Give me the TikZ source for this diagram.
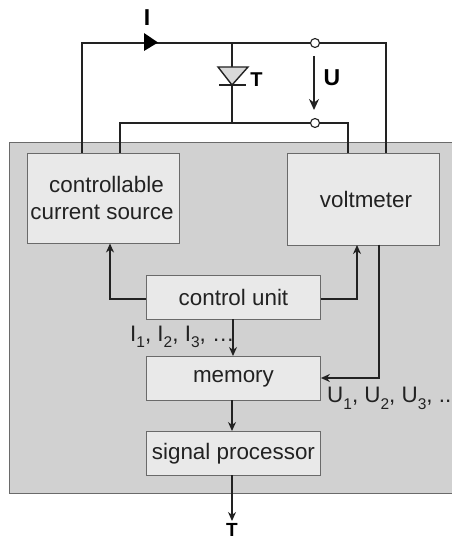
\documentclass[tikz,border=0pt]{standalone}
\usepackage{fontspec}
\setmainfont{Liberation Sans}
\usetikzlibrary{arrows.meta,calc}
\definecolor{panelgray}{HTML}{D1D1D1}
\definecolor{boxgray}{HTML}{E9E9E9}
\definecolor{edgegray}{HTML}{6A6A6A}
\definecolor{inkgray}{HTML}{222222}
\newcommand{\labsub}[2]{#1\raisebox{-0.55ex}{\fontsize{15.5}{15.5}\selectfont #2}}
\tikzset{
  block/.style={draw=edgegray,fill=boxgray,line width=0.9pt,inner sep=0pt,anchor=north west,align=center,text=inkgray,font=\fontsize{22.4}{26}\selectfont},
  wire/.style={draw=inkgray,line width=1.4pt},
  sig/.style={wire,-{Stealth[length=9pt,width=8pt]}},
  term/.style={circle,draw=inkgray,fill=white,line width=1.1pt,inner sep=0pt,minimum size=9pt},
  tag/.style={text=black,inner sep=0pt,font=\fontsize{23}{23}\selectfont\bfseries},
  list/.style={text=inkgray,inner sep=0pt,font=\fontsize{22.4}{22.4}\selectfont}
}
\begin{document}
\begin{tikzpicture}[x=1pt,y=-1pt]
\useasboundingbox (0,0) rectangle (451,540);
\draw [draw=edgegray,fill=panelgray,line width=0.9pt] (452,142) -- (9,142) -- (9,493.5) -- (452,493.5);
\node (source) [block,minimum width=152pt,minimum height=90pt] at (27,153) {};
\node (sourcetext) [text=inkgray,align=center,inner sep=0pt,font=\fontsize{22.4}{27}\selectfont] at (102,198) {\hspace*{9pt}controllable\\current source};
\node (volt) [block,minimum width=152pt,minimum height=91.5pt] at (286.5,153) {};
\node (volttext) [text=inkgray,inner sep=0pt,font=\fontsize{22.4}{26}\selectfont] at (366,199) {voltmeter};
\node (control) [block,minimum width=174pt,minimum height=44pt] at (146,275) {control unit};
\node (memory) [block,minimum width=174pt,minimum height=44pt] at (146,356) {memory};
\node (proc) [block,minimum width=174pt,minimum height=44pt] at (146,431) {signal processor};
\node (topterm) [term] at (315,43) {};
\node (lowterm) [term] at (315,123) {};
\coordinate (topjoin) at (232,43);
\coordinate (lowjoin) at (232,123);
\coordinate (diodetop) at (232,67);
\coordinate (diodeend) at (232,85);
\draw [wire] (topterm) -- (topjoin) -- (82,43) -- (82,153);
\draw [wire] (topterm) -- (386,43) -- (386,153);
\draw [wire] (lowterm) -- (lowjoin) -- (120,123) -- (120,153);
\draw [wire] (lowterm) -- (348,123) -- (348,153);
\draw [wire] (topjoin) -- (diodetop);
\draw [wire] (diodeend) -- (lowjoin);
\draw [wire,fill=boxgray!85!gray] (218,67) -- (248,67) -- (diodeend) -- cycle;
\draw [wire] (219,85) -- (246,85);
\draw [fill=black,draw=none] (144,33) -- (158,42.5) -- (144,51) -- cycle;
\draw [sig,line width=1.7pt,-{Stealth[length=11pt,width=10pt]}] (314,56) -- (314,110);
\draw [sig] (control.west |- 0,299) -- (110,299) -- (110,243.5);
\draw [sig] (control.east |- 0,299) -- (357,299) -- (357,245);
\draw [sig] (379,244.5) -- (379,378) -- (memory.east |- 0,378);
\draw [sig] (233,319) -- (233,356);
\draw [sig] (232,400) -- (232,431);
\node (current) [tag] at (147,17.5) {I};
\node (diodetag) [tag,font=\fontsize{20}{20}\selectfont\bfseries] at (256.5,80) {T};
\node (voltage) [tag] at (332,78) {U};
\node (result) [tag,font=\fontsize{19}{19}\selectfont\bfseries] at (232,530) {T};
\coordinate (resultend) at (232,521);
\draw [sig] (232,475) -- (resultend);
\node (ilist) [list,anchor=west] at (130,337) {\labsub{I}{1}, \labsub{I}{2}, \labsub{I}{3}, \dots};
\node (ulist) [list,anchor=west] at (327,398.5) {\labsub{U}{1}, \labsub{U}{2}, \labsub{U}{3}, ..};
\end{tikzpicture}
\end{document}
